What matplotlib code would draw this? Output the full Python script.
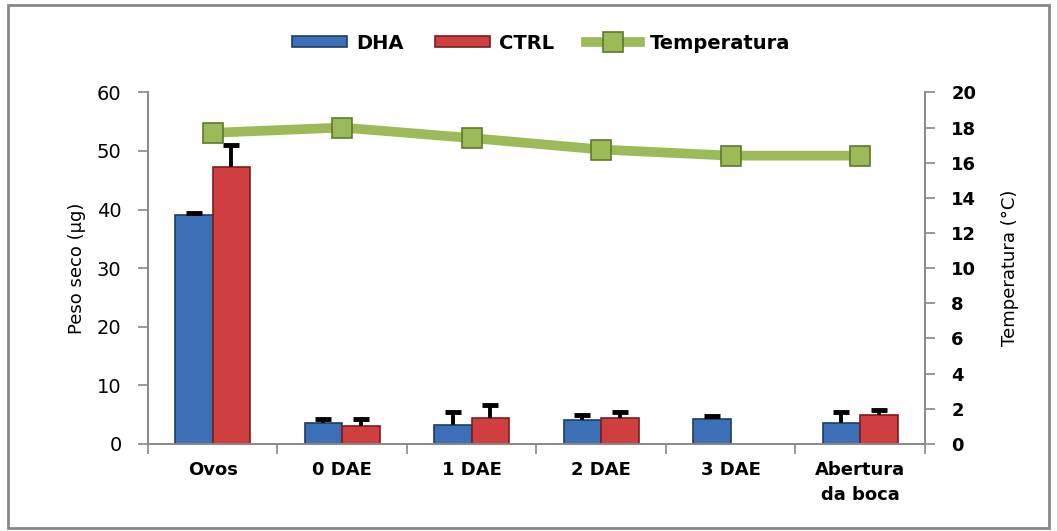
import numpy as np
import matplotlib
matplotlib.use("Agg")
import matplotlib.pyplot as plt
from matplotlib.patches import Rectangle

# dados
categorias = ["Ovos", "0 DAE", "1 DAE", "2 DAE", "3 DAE", "Abertura\nda boca"]
dha = [39.1, 3.5, 3.3, 4.0, 4.2, 3.5]
dha_err = [0.3, 0.7, 2.1, 0.9, 0.6, 1.9]
ctrl = [47.2, 3.0, 4.5, 4.5, np.nan, 4.9]
ctrl_err = [3.9, 1.3, 2.1, 0.9, np.nan, 0.9]
temperatura = [17.7, 18.0, 17.4, 16.75, 16.4, 16.4]

GREY = "#888888"
plt.rcParams["font.family"] = ["DejaVu Sans"]

fig = plt.figure(figsize=(10.57, 5.31), dpi=100)
ax = fig.add_axes([0.140, 0.164, 0.735, 0.662])
ax2 = ax.twinx()

x = np.arange(len(categorias))
w = 0.29

ax.bar(x - w / 2, dha, w, color="#3b6fb6", edgecolor="#1e3c68", linewidth=1.2,
       label="DHA", zorder=2)
ax.bar(x + w / 2, ctrl, w, color="#cf3f3f", edgecolor="#7a1e1e", linewidth=1.2,
       label="CTRL", zorder=2)

# barras de erro só para cima
for pos, val, err in ((x - w / 2, dha, dha_err), (x + w / 2, ctrl, ctrl_err)):
    val = np.array(val)
    top = val + np.array(err)
    ax.vlines(pos, val, top, color="black", linewidth=2.8, zorder=3)
    ax.plot(pos, top, linestyle="none", marker="_", markersize=11,
            markeredgewidth=3.5, color="black", zorder=3)

ax2.plot(x, temperatura, color="#9bbb59", linewidth=7, marker="s",
         markersize=15, markerfacecolor="#9bbb59", markeredgecolor="#5c7a2a",
         markeredgewidth=1.2, label="Temperatura", zorder=4)

ax.set_xlim(-0.5, len(categorias) - 0.5)
ax.set_ylim(0, 60)
ax.set_yticks(np.arange(0, 61, 10))
ax2.set_ylim(0, 20)
ax2.set_yticks(np.arange(0, 21, 2))

ax.set_xticks(x)
ax.set_xticklabels(categorias, fontsize=13, fontweight="bold", linespacing=1.5)
ax.set_xticks(np.arange(-0.5, len(categorias)), minor=True)
ax.tick_params(axis="x", which="major", length=0, pad=12)
ax.tick_params(axis="x", which="minor", length=7, color=GREY, width=1.2)
ax.tick_params(axis="y", length=7, color=GREY, width=1.2, pad=12, labelsize=14)
ax2.tick_params(axis="y", length=7, color=GREY, width=1.2, pad=12, labelsize=13)
for lab in ax2.get_yticklabels():
    lab.set_fontweight("bold")

for a in (ax, ax2):
    a.spines["top"].set_visible(False)
    for s in ("left", "right", "bottom"):
        a.spines[s].set_color(GREY)
        a.spines[s].set_linewidth(1.2)

ax.set_ylabel("Peso seco (\u00b5g)", fontsize=13, labelpad=8)
ax2.set_ylabel("Temperatura (\u00b0C)", fontsize=13, labelpad=18)

h1, l1 = ax.get_legend_handles_labels()
h2, l2 = ax2.get_legend_handles_labels()
fig.legend(h1 + h2, l1 + l2, loc="center", bbox_to_anchor=(0.512, 0.919),
           ncol=3, frameon=False, handlelength=2.8, handleheight=0.5,
           columnspacing=1.6, handletextpad=0.5,
           prop={"size": 14, "weight": "bold"})

# moldura do gráfico
fig.patches.append(Rectangle((8 / 1057, 3 / 531), 1041 / 1057, 523 / 531,
                             transform=fig.transFigure, fill=False,
                             edgecolor=GREY, linewidth=2))

fig.savefig("out.png", dpi=100)
